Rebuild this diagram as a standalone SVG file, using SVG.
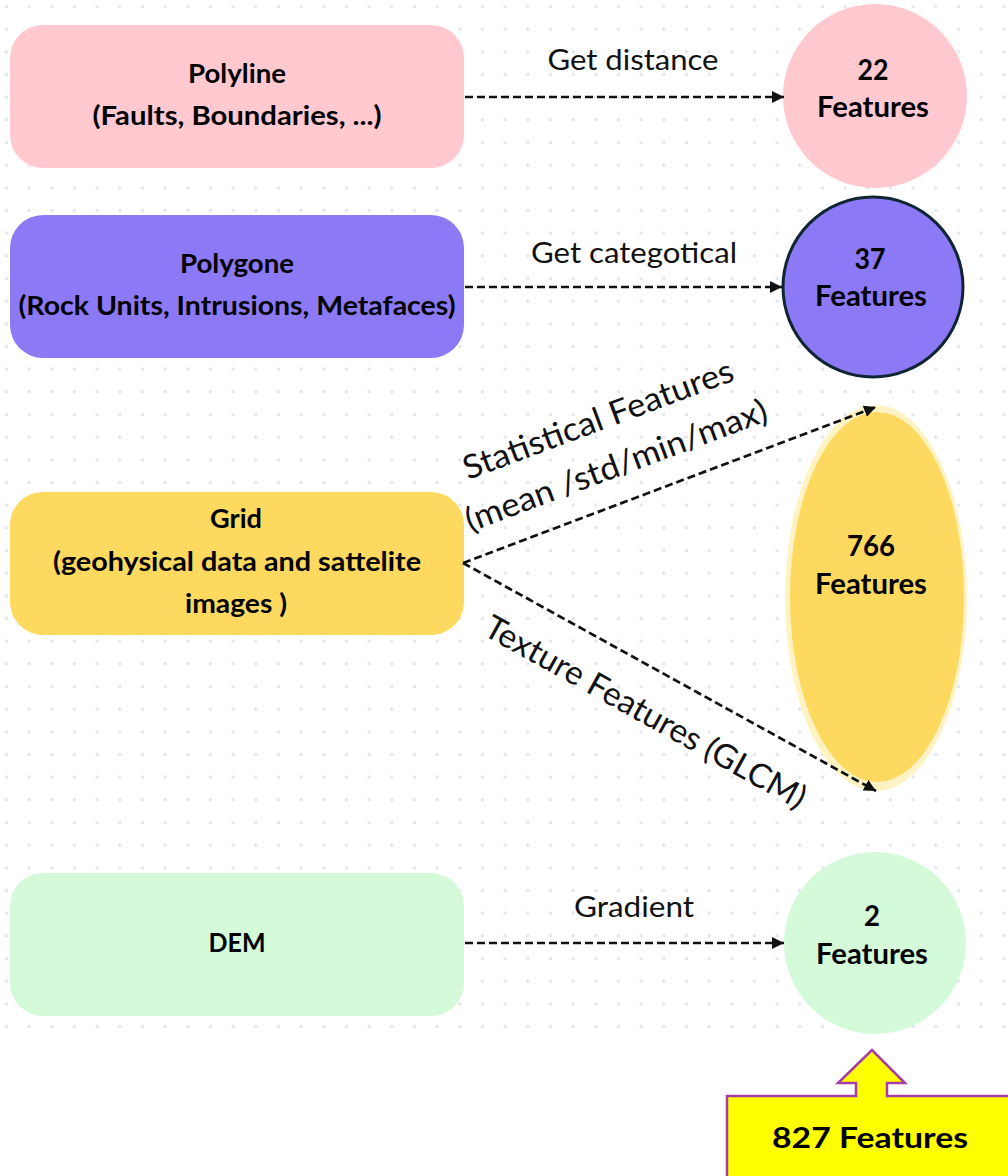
<svg xmlns="http://www.w3.org/2000/svg" width="1008" height="1176" viewBox="0 0 1008 1176">
  <defs>
    <pattern id="dots" width="22.667" height="22.667" patternUnits="userSpaceOnUse">
      <rect x="5" y="5" width="3" height="3" fill="#e2e5ed"/>
    </pattern>
    <marker id="head" viewBox="0 0 10 10" refX="10" refY="5" markerWidth="12" markerHeight="12" markerUnits="userSpaceOnUse" orient="auto">
      <path d="M0,0 L10,5 L0,10 Z" fill="#111"/>
    </marker>
    <style>
      .box-text { font-family: Lato, "Liberation Sans", sans-serif; font-weight: bold; font-size: 26.5px; fill: #000; text-anchor: middle; }
      .count { font-family: Lato, "Liberation Sans", sans-serif; font-weight: bold; font-size: 28px; fill: #000; text-anchor: middle; }
      .label { font-family: Lato, "Liberation Sans", sans-serif; font-size: 28px; fill: #111; text-anchor: middle; }
      .slant { font-family: Lato, "Liberation Sans", sans-serif; font-size: 33px; fill: #111; text-anchor: middle; }
      .edge { fill: none; stroke: #111; stroke-width: 2.7; stroke-dasharray: 8 4; marker-end: url(#head); }
    </style>
  </defs>

  <!-- dotted canvas -->
  <rect x="0" y="0" width="1008" height="1036" fill="url(#dots)"/>

  <!-- source layers -->
  <g id="polyline">
    <rect x="10" y="25" width="454" height="143" rx="33" fill="#ffc9cf"/>
    <text class="box-text" x="237" y="83" textLength="98" lengthAdjust="spacingAndGlyphs">Polyline</text>
    <text class="box-text" x="237" y="125" textLength="289" lengthAdjust="spacingAndGlyphs">(Faults, Boundaries, ...)</text>
  </g>
  <g id="polygone">
    <rect x="10" y="215" width="454" height="143" rx="33" fill="#8c79f6"/>
    <text class="box-text" x="237" y="273" textLength="114" lengthAdjust="spacingAndGlyphs">Polygone</text>
    <text class="box-text" x="237" y="315" textLength="437" lengthAdjust="spacingAndGlyphs">(Rock Units, Intrusions, Metafaces)</text>
  </g>
  <g id="grid">
    <rect x="10" y="492" width="454" height="143" rx="33" fill="#fdd95f"/>
    <text class="box-text" x="236" y="528" textLength="52" lengthAdjust="spacingAndGlyphs">Grid</text>
    <text class="box-text" x="237" y="571" textLength="368" lengthAdjust="spacingAndGlyphs">(geohysical data and sattelite</text>
    <text class="box-text" x="236" y="613" textLength="102" lengthAdjust="spacingAndGlyphs">images )</text>
  </g>
  <g id="dem">
    <rect x="10" y="873" width="454" height="143" rx="33" fill="#d4fad9"/>
    <text class="box-text" x="237" y="952" textLength="57" lengthAdjust="spacingAndGlyphs">DEM</text>
  </g>

  <!-- feature counts -->
  <g id="features-22">
    <circle cx="875" cy="96" r="92" fill="#ffc9cf"/>
    <text class="count" x="873" y="80" textLength="31" lengthAdjust="spacingAndGlyphs">22</text>
    <text class="count" x="873" y="117" textLength="112" lengthAdjust="spacingAndGlyphs">Features</text>
  </g>
  <g id="features-37">
    <circle cx="873" cy="287" r="90" fill="#8c79f6" stroke="#0f2533" stroke-width="3"/>
    <text class="count" x="870" y="269" textLength="31" lengthAdjust="spacingAndGlyphs">37</text>
    <text class="count" x="871" y="306" textLength="112" lengthAdjust="spacingAndGlyphs">Features</text>
  </g>
  <g id="features-766">
    <ellipse cx="876" cy="598" rx="91" ry="193" fill="#fff3c4"/>
    <ellipse cx="877" cy="597" rx="87" ry="185" fill="#fdd95f"/>
    <text class="count" x="871" y="556" textLength="48" lengthAdjust="spacingAndGlyphs">766</text>
    <text class="count" x="871" y="594" textLength="112" lengthAdjust="spacingAndGlyphs">Features</text>
  </g>
  <g id="features-2">
    <circle cx="875" cy="943" r="91" fill="#d4fad9"/>
    <text class="count" x="872" y="926" textLength="16" lengthAdjust="spacingAndGlyphs">2</text>
    <text class="count" x="872" y="964" textLength="112" lengthAdjust="spacingAndGlyphs">Features</text>
  </g>

  <!-- total callout -->
  <g id="total">
    <path d="M727,1096 H856 V1083 H838 L872,1050 L905,1083 H887 V1096 H1012 V1180 H727 Z" fill="#ffff00" stroke="#a53ca8" stroke-width="2.5"/>
    <text class="count" x="870" y="1148" font-size="33" textLength="196" lengthAdjust="spacingAndGlyphs">827 Features</text>
  </g>

  <!-- connectors -->
  <g id="connectors">
    <line class="edge" x1="465" y1="97" x2="784" y2="97"/>
    <line class="edge" x1="465" y1="287" x2="782" y2="287"/>
    <line class="edge" x1="463" y1="563" x2="876" y2="407"/>
    <line class="edge" x1="463" y1="563" x2="876" y2="791"/>
    <line class="edge" x1="465" y1="943" x2="784" y2="943"/>

    <text class="label" x="633" y="70" textLength="171" lengthAdjust="spacingAndGlyphs">Get distance</text>
    <text class="label" x="634" y="263" textLength="206" lengthAdjust="spacingAndGlyphs">Get categotical</text>
    <text class="label" x="634" y="917" textLength="120" lengthAdjust="spacingAndGlyphs">Gradient</text>

    <text class="slant" transform="translate(602,430) rotate(-20.5)" textLength="286" lengthAdjust="spacingAndGlyphs">Statistical Features</text>
    <text class="slant" transform="translate(620,476) rotate(-20.5)" textLength="320" lengthAdjust="spacingAndGlyphs">(mean /std/min/max)</text>
    <text class="slant" transform="translate(640,722) rotate(29)" textLength="362" lengthAdjust="spacingAndGlyphs">Texture Features (GLCM)</text>
  </g>
</svg>
